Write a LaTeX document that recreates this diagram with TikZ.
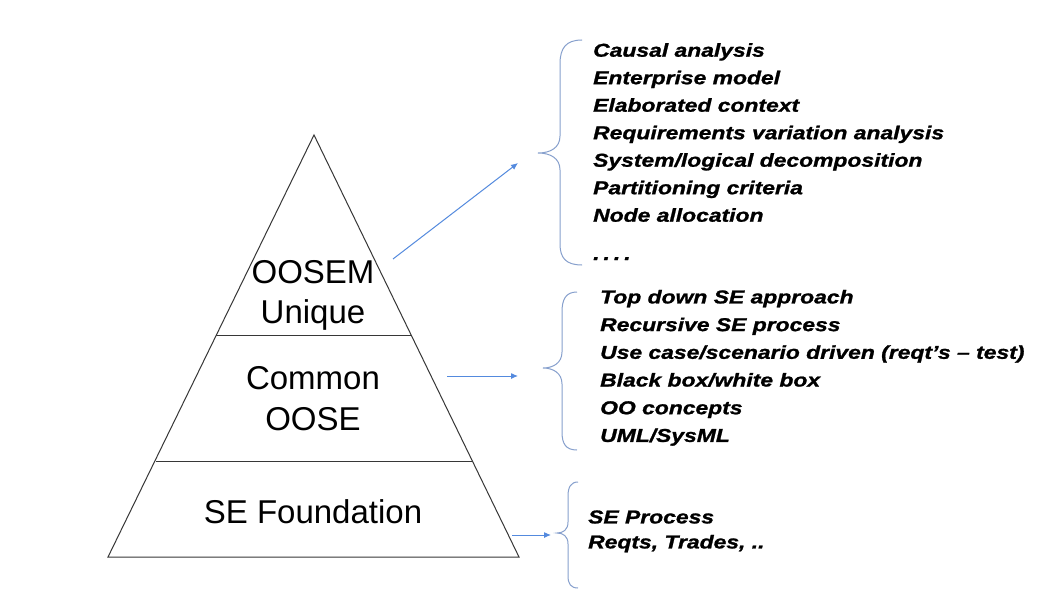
\documentclass[tikz,border=0pt]{standalone}
\usepackage{fontspec}
\setmainfont{Liberation Sans}
\newfontfamily\listfont[FakeStretch=1.23,FakeBold=1.2]{Liberation Sans}
\usetikzlibrary{arrows.meta}
\definecolor{arrowblue}{RGB}{84,138,222}
\definecolor{bracecol}{RGB}{135,160,205}
\definecolor{pyrline}{RGB}{55,55,55}
\tikzset{
  pyr/.style={draw=pyrline, line width=1pt},
  tiertext/.style={anchor=base, inner sep=0pt, font=\fontsize{33}{40}\selectfont},
  itemtext/.style={anchor=base west, inner sep=0pt, font=\listfont\bfseries\itshape\fontsize{18.6}{27.5}\selectfont},
  conn/.style={draw=arrowblue, line width=1pt, -{Latex[length=7pt,width=6pt]}},
  bracestyle/.style={draw=bracecol, line width=1pt}
}
\begin{document}
\begin{tikzpicture}[x=1pt,y=-1pt]
\useasboundingbox (0,0) rectangle (1054,602);
\fill[white] (0,0) rectangle (1054,602);
% pyramid
\draw[pyr, fill=white] (314,135) -- (519,557) -- (108,557) -- cycle;
\draw[pyr] (216.4,335) -- (411.2,335);
\draw[pyr] (156,461) -- (472.4,461);
% tier texts
\node[tiertext] (oosem) at (313,283.3) {OOSEM};
\node[tiertext] (unique) at (313,323) {Unique};
\node[tiertext] (common) at (313,389) {Common};
\node[tiertext] (oose) at (313,430) {OOSE};
\node[tiertext] (sefound) at (313,523) {SE Foundation};
% connector endpoints
\coordinate (a1s) at (393,259);
\coordinate (a1e) at (518,163);
\coordinate (a2s) at (447,376);
\coordinate (a2e) at (518,376);
\coordinate (a3s) at (512,535);
\coordinate (a3e) at (551,535);
\draw[conn] (a1s) -- (a1e);
\draw[conn] (a2s) -- (a2e);
\draw[conn] (a3s) -- (a3e);
% braces
\draw[bracestyle] (582,40) .. controls (566,40) and (560,48) .. (560,64) -- (560,136)
  .. controls (560,148) and (550,153) .. (538,153)
  .. controls (550,153) and (560,158) .. (560,170) -- (560,244)
  .. controls (560,258) and (566,265) .. (582,265);
\draw[bracestyle] (577,292) .. controls (566,292) and (562,299) .. (562,312) -- (562,352)
  .. controls (562,363) and (553,368) .. (543,368)
  .. controls (553,368) and (562,373) .. (562,384) -- (562,432)
  .. controls (562,444) and (566,450) .. (577,450);
\draw[bracestyle] (578,482) .. controls (571,482) and (568,487) .. (568,496) -- (568,522)
  .. controls (568,530) and (563,533) .. (557,533)
  .. controls (563,533) and (568,536) .. (568,544) -- (568,576)
  .. controls (568,584) and (571,588) .. (578,588);
% top list
\foreach \t [count=\i from 0] in {Causal analysis,Enterprise model,Elaborated context,Requirements variation analysis,System/logical decomposition,Partitioning criteria,Node allocation}{
  \node[itemtext] (top\i) at (593,56.7+27.5*\i) {\t};
}
\node[itemtext] (topdots) at (593,260) {.\kern4pt.\kern4pt.\kern4pt.};
% middle list
\foreach \t [count=\i from 0] in {Top down SE approach,Recursive SE process,Use case/scenario driven (reqt’s – test),Black box/white box,OO concepts,UML/SysML}{
  \node[itemtext] (mid\i) at (600,303.4+27.7*\i) {\t};
}
% bottom list
\node[itemtext] (bot0) at (588,523.4) {SE Process};
\node[itemtext] (bot1) at (588,548.4) {Reqts, Trades, ..};
\end{tikzpicture}
\end{document}
